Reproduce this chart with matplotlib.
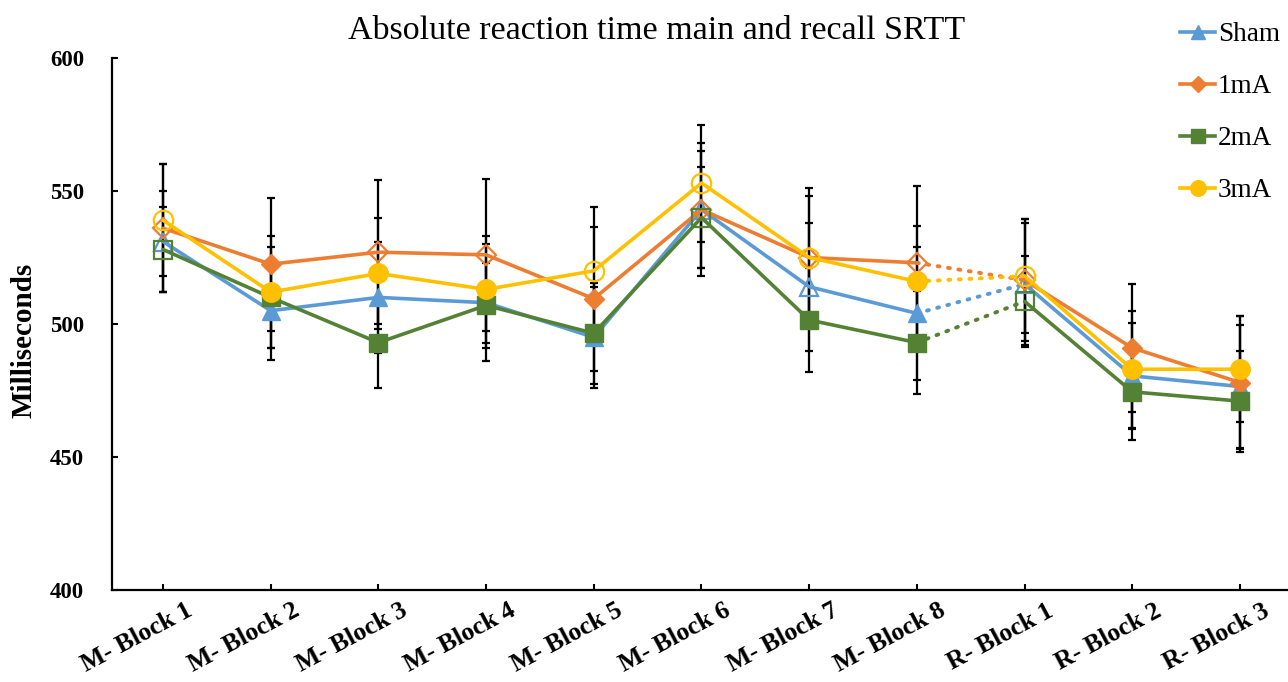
import numpy as np
import matplotlib
matplotlib.use("Agg")
import matplotlib.pyplot as plt
import matplotlib.transforms as mtransforms
from matplotlib.lines import Line2D

# ---------------- data ----------------
categories = ["M- Block 1", "M- Block 2", "M- Block 3", "M- Block 4", "M- Block 5",
              "M- Block 6", "M- Block 7", "M- Block 8", "R- Block 1", "R- Block 2", "R- Block 3"]
series_names = ["Sham", "1mA", "2mA", "3mA"]

sham = [531, 505, 510, 508, 495, 543, 514, 504, 515, 480.5, 476.5]
ma1 = [536, 522.5, 527, 526, 509.5, 543, 525, 523, 516.5, 491, 478]
ma2 = [528, 510, 493, 507, 496.5, 540, 501.5, 493, 508.5, 474.5, 471]
ma3 = [539, 512, 519, 513, 520, 553, 525, 516, 518, 483, 483]

sham_err = [19, 18.5, 21, 22, 19, 22, 24, 25, 23, 20, 23]
ma1_err = [24, 25, 27, 28.5, 27, 25, 26, 29, 23, 24, 25]
ma2_err = [16, 19, 17, 16, 19, 19, 19.5, 19.5, 17, 18, 19]
ma3_err = [21, 21, 21, 20, 24, 22, 23, 21, 21.5, 22, 20]

# hollow (open) markers per point
sham_open = [1, 0, 0, 0, 0, 1, 1, 0, 1, 0, 0]
ma1_open = [1, 0, 1, 1, 0, 1, 1, 1, 1, 0, 0]
ma2_open = [1, 0, 0, 0, 0, 1, 0, 0, 1, 0, 0]
ma3_open = [1, 0, 0, 0, 1, 1, 1, 0, 1, 0, 0]

yticks = [400, 450, 500, 550, 600]

# ---------------- style ----------------
colors = ["#5B9BD5", "#ED7D31", "#548235", "#FFC000"]
markers = ["^", "D", "s", "o"]
msizes = [13, 10.5, 12.5, 14]

plt.rcParams["font.family"] = ["Liberation Serif", "DejaVu Serif"]

fig = plt.figure(figsize=(12.88, 6.82), dpi=100)
ax = fig.add_axes([112 / 1288, 1 - 590 / 682, (1288 - 112) / 1288, (590 - 58) / 682])

x = np.arange(len(categories))
n_main = 8  # main blocks

values = [sham, ma1, ma2, ma3]
errs = [sham_err, ma1_err, ma2_err, ma3_err]
opens = [sham_open, ma1_open, ma2_open, ma3_open]

# error bars first (below)
for v, e in zip(values, errs):
    ax.errorbar(x, v, yerr=e, fmt="none", ecolor="black", elinewidth=1.6,
                capsize=3, capthick=1.6, zorder=2)

for i, (v, o) in enumerate(zip(values, opens)):
    v = np.asarray(v, dtype=float)
    o = np.asarray(o, dtype=bool)
    c = colors[i]
    z = 3 + i
    ax.plot(x[:n_main], v[:n_main], color=c, lw=2.6, solid_capstyle="round", zorder=z)
    ax.plot(x[n_main - 1:n_main + 1], v[n_main - 1:n_main + 1], color=c, lw=2.8,
            linestyle=(0, (0.5, 2.2)), dash_capstyle="round", zorder=z)
    ax.plot(x[n_main:], v[n_main:], color=c, lw=2.6, solid_capstyle="round", zorder=z)
    ax.plot(x[~o], v[~o], linestyle="none", marker=markers[i], ms=msizes[i],
            mfc=c, mec=c, zorder=z + 0.5)
    ax.plot(x[o], v[o], linestyle="none", marker=markers[i], ms=msizes[i],
            mfc="none", mec=c, mew=1.6, zorder=z + 0.5)

ax.set_xlim(-0.4735, 10.446)
ax.set_ylim(400, 600)
ax.set_yticks(yticks)
ax.set_yticklabels([str(t) for t in yticks], fontsize=16.5, fontweight="bold")
ax.set_xticks(x)
ax.set_xticklabels([])

# rotated category labels, anchored at their top-right corner just right of each tick
lab_tr = ax.get_xaxis_transform() + mtransforms.ScaledTranslation(
    0.22, -0.09, fig.dpi_scale_trans)
for xi, name in zip(x, categories):
    ax.text(xi, 0, name, transform=lab_tr, fontsize=18.5, fontweight="bold",
            rotation=28, ha="right", va="top", rotation_mode="anchor", clip_on=False)

for s in ["top", "right"]:
    ax.spines[s].set_visible(False)
for s in ["left", "bottom"]:
    ax.spines[s].set_linewidth(1.6)
ax.tick_params(axis="both", direction="in", length=4, width=1.5)
ax.tick_params(axis="y", pad=20)

ax.set_ylabel("Milliseconds", fontsize=21, fontweight="bold")
ax.yaxis.set_label_coords(-0.063, 0.47)

fig.text(657 / 1288, 1 - 31 / 682, "Absolute reaction time main and recall SRTT",
         fontsize=24.5, ha="center", va="center")

handles = [Line2D([0], [0], color=colors[i], lw=2.6, marker=markers[i],
                  ms=msizes[i] * 0.8, mfc=colors[i], mec=colors[i])
           for i in range(4)]
fig.legend(handles, series_names, loc="upper left",
           bbox_to_anchor=(1180 / 1288, 1 - 22 / 682), frameon=False,
           fontsize=19.5, handlelength=1.3, handletextpad=0.1, labelspacing=1.0,
           borderpad=0, borderaxespad=0)

fig.savefig("out.png", dpi=100)
